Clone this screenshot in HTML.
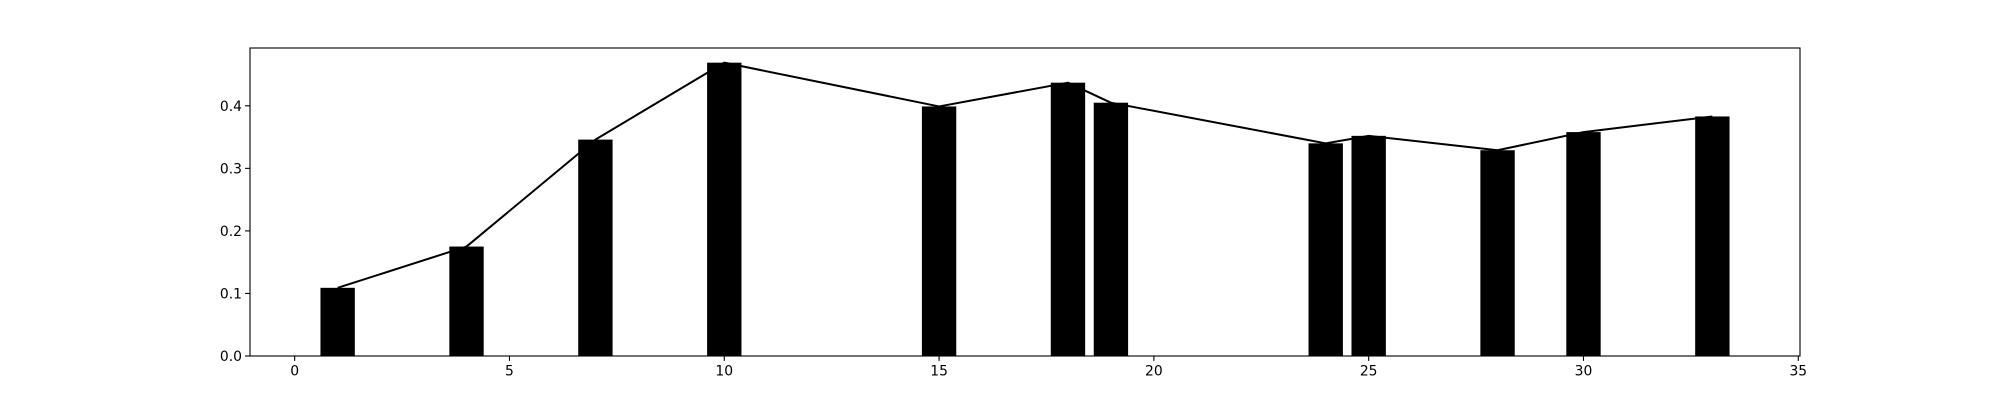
<!DOCTYPE html>
<html><head><meta charset="utf-8"><style>
html,body{margin:0;padding:0;background:#fff;}
svg{display:block;}
text{font-family:"DejaVu Sans","Liberation Sans",sans-serif;font-size:13.9px;fill:#000;}
</style></head><body>
<svg id="chart" width="2000" height="400" xmlns="http://www.w3.org/2000/svg">
<rect x="0" y="0" width="2000" height="400" fill="#fff"/>
<g id="bars"></g>
<g id="line"></g>
<g id="axes"></g>
</svg>
<script>
const categories = [1, 4, 7, 10, 15, 18, 19, 24, 25, 28, 30, 33];
const values = [0.109, 0.175, 0.346, 0.469, 0.399, 0.437, 0.405, 0.340, 0.352, 0.329, 0.358, 0.383];
const xTicks = [0, 5, 10, 15, 20, 25, 30, 35];
const yTicks = [0.0, 0.1, 0.2, 0.3, 0.4];
const yTickLabels = ["0.0", "0.1", "0.2", "0.3", "0.4"];

const NS = "http://www.w3.org/2000/svg";
const L = 250, R = 1800, T = 48, B = 356;
const barW = 0.8;
const xmin0 = Math.min(...categories) - barW / 2, xmax0 = Math.max(...categories) + barW / 2;
const xpad = (xmax0 - xmin0) * 0.05;
const xmin = xmin0 - xpad, xmax = xmax0 + xpad;
const ymax = Math.max(...values) * 1.05;
const xs = v => L + (v - xmin) / (xmax - xmin) * (R - L);
const ys = v => B - v / ymax * (B - T);
function mk(tag, attrs, parent) {
  const e = document.createElementNS(NS, tag);
  for (const k in attrs) e.setAttribute(k, attrs[k]);
  parent.appendChild(e);
  return e;
}
const gb = document.getElementById('bars');
categories.forEach((c, i) => {
  const r = mk('rect', {x: xs(c - barW / 2), y: ys(values[i]), width: xs(c + barW / 2) - xs(c - barW / 2), height: B - ys(values[i]), fill: '#000'}, gb);
  
  
});
const gl = document.getElementById('line');
const pl = mk('polyline', {points: categories.map((c, i) => xs(c) + ',' + ys(values[i])).join(' '), fill: 'none', stroke: '#000', 'stroke-width': 2, 'stroke-linejoin': 'round'}, gl);


const ga = document.getElementById('axes');
const frame = mk('rect', {x: L, y: T, width: R - L, height: B - T, fill: 'none', stroke: '#000', 'stroke-width': 1.1}, ga);


xTicks.forEach(t => {
  const x = xs(t);
  mk('line', {x1: x, x2: x, y1: B, y2: B + 4.9, stroke: '#000', 'stroke-width': 1.1}, ga);
  const tx = mk('text', {x: x, y: B + 19.5, 'text-anchor': 'middle'}, ga);
  tx.textContent = t;
  
  
});
yTicks.forEach((t, i) => {
  const y = ys(t);
  mk('line', {x1: L - 4.9, x2: L, y1: y, y2: y, stroke: '#000', 'stroke-width': 1.1}, ga);
  const tx = mk('text', {x: L - 8, y: y + 5, 'text-anchor': 'end'}, ga);
  tx.textContent = yTickLabels[i];
  
  
});
</script>
</body></html>
